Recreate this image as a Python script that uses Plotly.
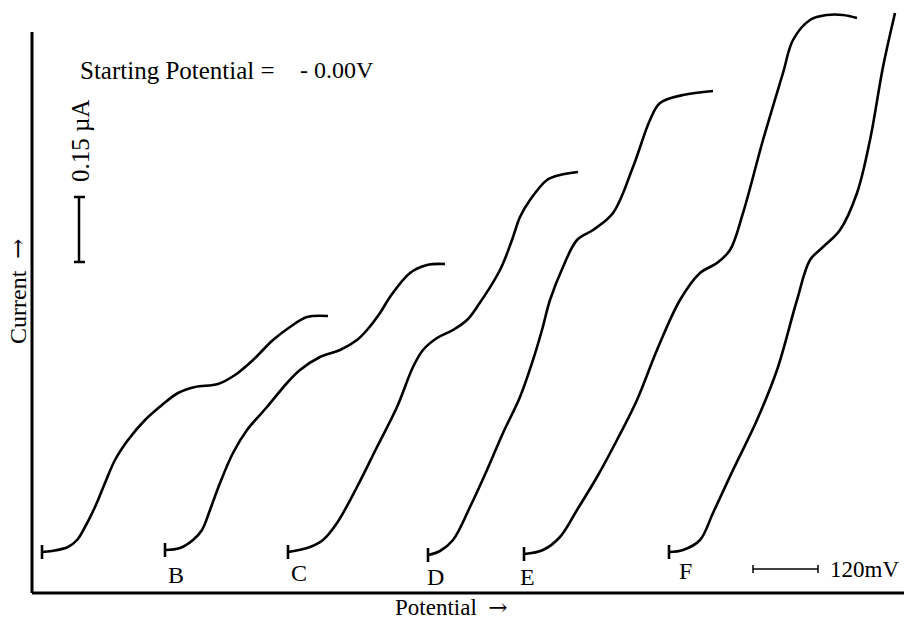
import plotly.graph_objects as go

# Recorder traces (potential in chart units from the current axis, current in chart units above the potential axis)
curve_names = ["A", "B", "C", "D", "E", "F"]

a_potential = [10, 20, 36, 45, 53, 63, 73, 83, 96, 113, 130, 146, 163, 186, 203, 221, 241, 258, 275, 296]
a_current = [41, 42, 46, 53, 66, 86, 110, 133, 153, 173, 188, 200, 206, 209, 218, 233, 253, 266, 276, 277]

b_potential = [133, 148, 161, 170, 178, 188, 201, 215, 235, 255, 268, 288, 308, 325, 335, 348, 358, 378, 395, 413]
b_current = [43, 45, 53, 63, 83, 110, 140, 163, 186, 210, 223, 236, 243, 253, 263, 280, 296, 320, 328, 329]

c_potential = [256, 278, 291, 305, 325, 345, 365, 381, 391, 405, 421, 435, 445, 468, 480, 488, 498, 515, 528, 546]
c_current = [41, 46, 53, 70, 106, 146, 186, 226, 243, 255, 263, 273, 286, 323, 353, 376, 393, 413, 418, 421]

d_potential = [396, 408, 421, 438, 455, 471, 488, 501, 510, 518, 531, 545, 561, 581, 601, 618, 628, 651, 681]
d_current = [38, 42, 53, 86, 123, 160, 196, 233, 263, 293, 326, 353, 363, 380, 426, 473, 490, 498, 502]

e_potential = [492, 511, 528, 545, 565, 585, 605, 625, 648, 668, 685, 698, 711, 731, 751, 761, 778, 795, 811, 825]
e_current = [39, 43, 56, 83, 116, 153, 193, 243, 293, 320, 330, 343, 380, 453, 520, 553, 573, 578, 578, 575]

f_potential = [637, 651, 668, 681, 701, 725, 745, 765, 778, 791, 808, 825, 838, 851, 863]
f_current = [41, 43, 53, 80, 123, 173, 223, 293, 333, 346, 363, 400, 453, 526, 580]

curve_labels = ["B", "C", "D", "E", "F"]
label_potential = [144, 267, 403, 495, 653]
label_current = [18, 20, 16, 16, 22]

current_scale_label = "0.15 µA"
current_scale = [331, 396]
potential_scale_label = "120mV"
potential_scale = [721, 786]

potentials = [a_potential, b_potential, c_potential, d_potential, e_potential, f_potential]
currents = [a_current, b_current, c_current, d_current, e_current, f_current]

fig = go.Figure()
for name, xs, ys in zip(curve_names, potentials, currents):
    fig.add_trace(go.Scatter(x=xs, y=ys, mode="lines", name=name,
                             line=dict(color="black", width=2.6, shape="spline", smoothing=1.0),
                             showlegend=False, hoverinfo="skip"))
# starting ticks
fig.add_trace(go.Scatter(x=[p[0] for p in potentials], y=[c[0] for c in currents], mode="markers",
                         marker=dict(symbol="line-ns", size=10, line=dict(color="black", width=2.6)),
                         showlegend=False, hoverinfo="skip"))

serif = "Liberation Serif, Times New Roman, serif"
arrow = "<span style='font-family:DejaVu Serif'>→</span>"

# axes lines
fig.add_shape(type="line", x0=0, x1=0, y0=0, y1=561, line=dict(color="black", width=3))
fig.add_shape(type="line", x0=0, x1=872, y0=0, y1=0, line=dict(color="black", width=3))

# current scale bar
fig.add_shape(type="line", x0=47, x1=47, y0=current_scale[0], y1=current_scale[1], line=dict(color="black", width=2.5))
for yv in current_scale:
    fig.add_shape(type="line", x0=42, x1=53, y0=yv, y1=yv, line=dict(color="black", width=2.5))

# potential scale bar
fig.add_shape(type="line", x0=potential_scale[0], x1=potential_scale[1], y0=24, y1=24, line=dict(color="black", width=1.5))
for xv in potential_scale:
    fig.add_shape(type="line", x0=xv, x1=xv, y0=20, y1=28, line=dict(color="black", width=1.5))

ann = []
ann.append(dict(x=46, y=523, text="Starting Potential =", xanchor="left", yanchor="middle",
                font=dict(family=serif, size=25, color="black"), showarrow=False))
ann.append(dict(x=266, y=523, text="- 0.00V", xanchor="left", yanchor="middle",
                font=dict(family=serif, size=24, color="black"), showarrow=False))
ann.append(dict(x=48, y=452, text=current_scale_label, textangle=-90, xanchor="center", yanchor="middle",
                font=dict(family=serif, size=25, color="black"), showarrow=False))
ann.append(dict(x=-14, y=301, text="Current  " + arrow, textangle=-90, xanchor="center", yanchor="middle",
                font=dict(family=serif, size=24, color="black"), showarrow=False))
ann.append(dict(x=419, y=-14, text="Potential  " + arrow, xanchor="center", yanchor="middle",
                font=dict(family=serif, size=23, color="black"), showarrow=False))
ann.append(dict(x=796, y=24, text=potential_scale_label, xanchor="left", yanchor="middle",
                font=dict(family=serif, size=23, color="black"), showarrow=False))
for t, xv, yv in zip(curve_labels, label_potential, label_current):
    ann.append(dict(x=xv, y=yv, text=t, xanchor="center", yanchor="middle",
                    font=dict(family=serif, size=24, color="black"), showarrow=False))

fig.update_layout(
    width=904, height=623,
    margin=dict(l=0, r=0, t=0, b=0),
    paper_bgcolor="white", plot_bgcolor="white",
    xaxis=dict(range=[-32, 872], visible=False, fixedrange=True),
    yaxis=dict(range=[-30, 593], visible=False, fixedrange=True),
    annotations=ann,
)
fig.write_html("out.html", config={"displayModeBar": False},
               post_script="document.body.style.margin='0';document.body.style.overflow='hidden';")
